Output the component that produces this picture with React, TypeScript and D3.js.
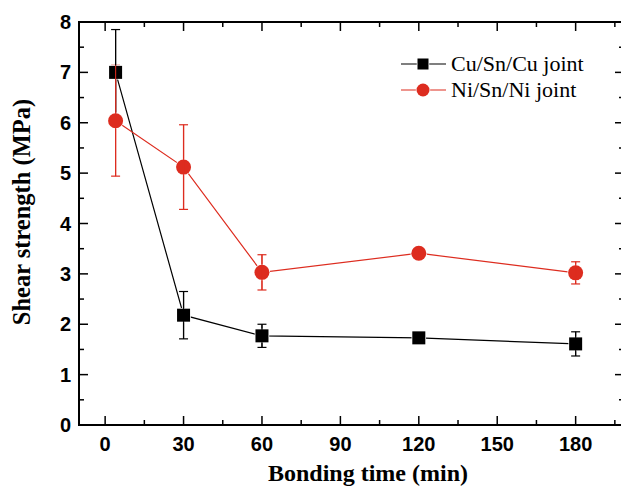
import React, { useRef, useEffect } from "react";
import * as d3 from "d3";

// bonding time (min)
const times = [4, 30, 60, 120, 180];
// shear strength (MPa)
const cuValues = [7.0, 2.18, 1.77, 1.73, 1.61];
const cuErrors = [0.85, 0.47, 0.23, 0.0, 0.24];
const niValues = [6.04, 5.12, 3.03, 3.41, 3.02];
const niErrors = [1.1, 0.84, 0.35, 0.03, 0.22];

const xTicks = [0, 30, 60, 90, 120, 150, 180];
const yTicks = [0, 1, 2, 3, 4, 5, 6, 7, 8];
const legendLabels = ["Cu/Sn/Cu joint", "Ni/Sn/Ni joint"];

const RED = "#dd2c1f";

const App = () => {
	const ref = useRef<SVGSVGElement>(null);
	const width = 621;
	const height = 488;
	const left = 79;
	const right = 624; // the right frame sits just past the picture edge
	const top = 22;
	const bottom = 425;

	useEffect(() => {
		const svg = d3.select(ref.current);
		svg.selectAll("*").remove();

		const x = d3.scaleLinear().domain([-10, 198.5]).range([left, right]);
		const y = d3.scaleLinear().domain([0, 8]).range([bottom, top]);

		const minorX = d3.range(-15, 210, 15).filter((d) => d % 30 !== 0 && x(d) > left && x(d) < right);
		const minorY = d3.range(0.5, 8, 1);

		const axes = svg.append("g").attr("stroke", "#000");

		// tick marks, all pointing inside, on all four sides
		xTicks.forEach((t) => {
			axes.append("line").attr("x1", x(t)).attr("x2", x(t)).attr("y1", bottom).attr("y2", bottom - 9).attr("stroke-width", 1.5);
			axes.append("line").attr("x1", x(t)).attr("x2", x(t)).attr("y1", top).attr("y2", top + 9).attr("stroke-width", 1.5);
		});
		minorX.forEach((t) => {
			axes.append("line").attr("x1", x(t)).attr("x2", x(t)).attr("y1", bottom).attr("y2", bottom - 5).attr("stroke-width", 1.5);
			axes.append("line").attr("x1", x(t)).attr("x2", x(t)).attr("y1", top).attr("y2", top + 5).attr("stroke-width", 1.5);
		});
		yTicks.forEach((t) => {
			axes.append("line").attr("x1", left).attr("x2", left + 9).attr("y1", y(t)).attr("y2", y(t)).attr("stroke-width", 1.5);
			axes.append("line").attr("x1", right).attr("x2", right - 9).attr("y1", y(t)).attr("y2", y(t)).attr("stroke-width", 1.5);
		});
		minorY.forEach((t) => {
			axes.append("line").attr("x1", left).attr("x2", left + 5).attr("y1", y(t)).attr("y2", y(t)).attr("stroke-width", 1.5);
			axes.append("line").attr("x1", right).attr("x2", right - 5).attr("y1", y(t)).attr("y2", y(t)).attr("stroke-width", 1.5);
		});

		// frame
		axes
			.append("rect")
			.attr("x", left)
			.attr("y", top)
			.attr("width", right - left)
			.attr("height", bottom - top)
			.attr("fill", "none")
			.attr("stroke-width", 2);

		// tick labels
		const labelFont = "'Liberation Sans', Arial, sans-serif";
		svg
			.append("g")
			.selectAll("text")
			.data(xTicks)
			.enter()
			.append("text")
			.attr("x", (d) => x(d))
			.attr("y", bottom + 26)
			.attr("text-anchor", "middle")
			.attr("font-family", labelFont)
			.attr("font-weight", "bold")
			.attr("font-size", 20)
			.text((d) => d);
		svg
			.append("g")
			.selectAll("text")
			.data(yTicks)
			.enter()
			.append("text")
			.attr("x", left - 8)
			.attr("y", (d) => y(d) + 7)
			.attr("text-anchor", "end")
			.attr("font-family", labelFont)
			.attr("font-weight", "bold")
			.attr("font-size", 20)
			.text((d) => d);

		// axis titles
		const titleFont = "'Liberation Serif', 'Times New Roman', serif";
		svg
			.append("text")
			.attr("x", 368)
			.attr("y", 481)
			.attr("text-anchor", "middle")
			.attr("font-family", titleFont)
			.attr("font-weight", "bold")
			.attr("font-size", 24)
			.text("Bonding time (min)");
		svg
			.append("text")
			.attr("transform", `translate(30, 212) rotate(-90)`)
			.attr("text-anchor", "middle")
			.attr("font-family", titleFont)
			.attr("font-weight", "bold")
			.attr("font-size", 24.5)
			.text("Shear strength (MPa)");

		const series = [
			{ values: cuValues, errors: cuErrors, color: "#000", shape: "square" },
			{ values: niValues, errors: niErrors, color: RED, shape: "circle" },
		];

		const line = d3
			.line<number>()
			.x((d, i) => x(times[i]))
			.y((d) => y(d));

		series.forEach((s) => {
			const g = svg.append("g");
			g.append("path").attr("d", line(s.values)).attr("fill", "none").attr("stroke", s.color).attr("stroke-width", 1.2);

			// error bars
			s.values.forEach((v, i) => {
				if (!s.errors[i]) return;
				const cx = x(times[i]);
				const y0 = y(v - s.errors[i]);
				const y1 = y(v + s.errors[i]);
				g.append("line").attr("x1", cx).attr("x2", cx).attr("y1", y0).attr("y2", y1).attr("stroke", s.color).attr("stroke-width", 1.2);
				[y0, y1].forEach((yy) => {
					g.append("line").attr("x1", cx - 4.5).attr("x2", cx + 4.5).attr("y1", yy).attr("y2", yy).attr("stroke", s.color).attr("stroke-width", 1.2);
				});
			});
		});

		// markers on top, with a white rim so the line stops short of them
		series.forEach((s) => {
			const g = svg.append("g");
			s.values.forEach((v, i) => {
				const cx = x(times[i]);
				const cy = y(v);
				if (s.shape === "square") {
					g.append("rect")
						.attr("x", cx - 6.5)
						.attr("y", cy - 6.5)
						.attr("width", 13)
						.attr("height", 13)
						.attr("fill", s.color)
						.attr("stroke", "#fff")
						.attr("stroke-width", 1.5)
						.attr("paint-order", "stroke");
				} else {
					g.append("circle")
						.attr("cx", cx)
						.attr("cy", cy)
						.attr("r", 7.5)
						.attr("fill", s.color)
						.attr("stroke", "#fff")
						.attr("stroke-width", 1.5)
						.attr("paint-order", "stroke");
				}
			});
			// redraw the error bar stems over the markers' rims
			s.values.forEach((v, i) => {
				if (!s.errors[i]) return;
				const cx = x(times[i]);
				g.append("line")
					.attr("x1", cx)
					.attr("x2", cx)
					.attr("y1", y(v - s.errors[i]))
					.attr("y2", y(v + s.errors[i]))
					.attr("stroke", s.color)
					.attr("stroke-width", 1.2)
					.attr("opacity", 0.9);
			});
		});

		// legend
		const legend = svg.append("g");
		series.forEach((s, i) => {
			const ly = 64 + i * 26;
			legend.append("line").attr("x1", 401).attr("x2", 446).attr("y1", ly).attr("y2", ly).attr("stroke", s.color).attr("stroke-width", 1.2);
			if (s.shape === "square") {
				legend.append("rect").attr("x", 423 - 5.5).attr("y", ly - 5.5).attr("width", 11).attr("height", 11).attr("fill", s.color).attr("stroke", "#fff").attr("stroke-width", 1.5).attr("paint-order", "stroke");
			} else {
				legend.append("circle").attr("cx", 423).attr("cy", ly).attr("r", 6.5).attr("fill", s.color).attr("stroke", "#fff").attr("stroke-width", 1.5).attr("paint-order", "stroke");
			}
			legend
				.append("text")
				.attr("x", 451)
				.attr("y", ly + 7)
				.attr("font-family", titleFont)
				.attr("font-size", 22)
				.text(legendLabels[i]);
		});
	}, []);

	return (
		<svg
			ref={ref}
			width={width}
			height={height}
			style={{ position: "absolute", left: 0, top: 0, background: "#fff" }}
		/>
	);
};

export default App;
